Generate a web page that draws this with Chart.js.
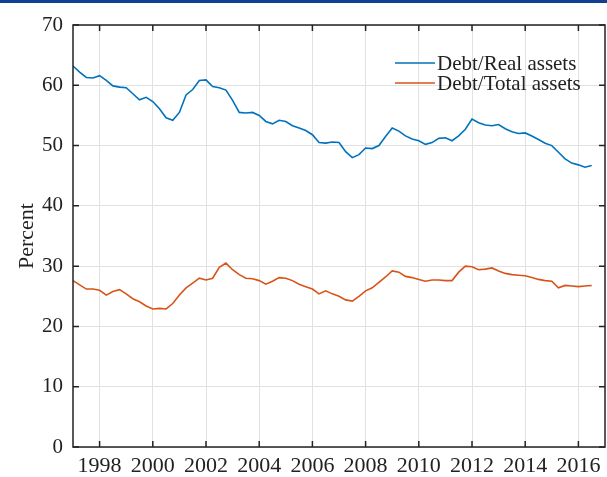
<!DOCTYPE html>
<html lang="en">
<head>
<meta charset="UTF-8">
<title>Debt ratios</title>
<style>
  body { margin: 0; background: #ffffff; }
  .chart-box { position: relative; width: 607px; height: 477px; }
  .topbar { position: absolute; left: 0; top: 0; width: 607px; height: 3px; background: #123f8f; }
</style>
</head>
<body>
<div class="chart-box"><canvas id="debtChart"></canvas></div>
<div class="topbar"></div>
<script src="https://cdn.jsdelivr.net/npm/chart.js"></script>
<script>
// quarterly observations, first one is 1997 Q1
const startYear = 1997;
const seriesLabels = ['Debt/Real assets', 'Debt/Total assets'];

const debtReal = [
  63.2, 62.2, 61.3, 61.2, 61.6, 60.8, 59.9, 59.7,   // 1997-98
  59.6, 58.6, 57.6, 58.0, 57.3, 56.1, 54.6, 54.2,   // 1999-00
  55.5, 58.4, 59.3, 60.8, 60.9, 59.8, 59.6, 59.2,   // 2001-02
  57.5, 55.5, 55.4, 55.5, 55.0, 54.0, 53.6, 54.2,   // 2003-04
  54.0, 53.3, 52.9, 52.5, 51.8, 50.5, 50.4, 50.6,   // 2005-06
  50.5, 49.0, 48.0, 48.5, 49.6, 49.5, 50.0, 51.5,   // 2007-08
  52.9, 52.4, 51.6, 51.1, 50.8, 50.2, 50.5, 51.2,   // 2009-10
  51.3, 50.8, 51.6, 52.7, 54.4, 53.8, 53.4, 53.3,   // 2011-12
  53.5, 52.8, 52.3, 52.0, 52.1, 51.6, 51.0, 50.4,   // 2013-14
  50.0, 48.9, 47.8, 47.1, 46.8, 46.4, 46.7          // 2015-16
];

const debtTotal = [
  27.6, 26.9, 26.2, 26.2, 26.0, 25.2, 25.8, 26.1,
  25.4, 24.6, 24.1, 23.4, 22.9, 23.0, 22.9, 23.8,
  25.2, 26.4, 27.2, 28.0, 27.7, 28.0, 29.8, 30.5,
  29.4, 28.6, 28.0, 27.9, 27.6, 27.0, 27.5, 28.1,
  28.0, 27.6, 27.0, 26.6, 26.2, 25.4, 25.9, 25.4,
  25.0, 24.4, 24.2, 25.0, 25.9, 26.4, 27.3, 28.2,
  29.2, 29.0, 28.3, 28.1, 27.8, 27.5, 27.7, 27.7,
  27.6, 27.6, 29.0, 30.0, 29.9, 29.4, 29.5, 29.7,
  29.2, 28.8, 28.6, 28.5, 28.4, 28.1, 27.8, 27.6,
  27.5, 26.4, 26.8, 26.7, 26.6, 26.7, 26.8
];

const xTickYears = [1998, 2000, 2002, 2004, 2006, 2008, 2010, 2012, 2014, 2016];
const yTickValues = [0, 10, 20, 30, 40, 50, 60, 70];

const blue = 'rgb(0,114,189)';
const orange = 'rgb(217,83,25)';
const serif = "'Liberation Serif', 'DejaVu Serif', serif";
const inkColor = '#222222';

function toPoints(values) {
  return values.map((v, i) => ({ x: startYear + i / 4, y: v }));
}

// box around the plot, inward tick marks, and the legend inside the plot
const framePlugin = {
  id: 'frame',
  afterDatasetsDraw(chart) {
    const { ctx, chartArea: a, scales: { x, y } } = chart;
    ctx.save();
    ctx.strokeStyle = inkColor;
    ctx.lineWidth = 1.5;
    ctx.strokeRect(a.left, a.top, a.right - a.left, a.bottom - a.top);
    ctx.beginPath();
    xTickYears.forEach(v => {
      const px = x.getPixelForValue(v);
      ctx.moveTo(px, a.bottom); ctx.lineTo(px, a.bottom - 6);
      ctx.moveTo(px, a.top); ctx.lineTo(px, a.top + 6);
    });
    yTickValues.forEach(v => {
      const py = y.getPixelForValue(v);
      ctx.moveTo(a.left, py); ctx.lineTo(a.left + 6, py);
      ctx.moveTo(a.right, py); ctx.lineTo(a.right - 6, py);
    });
    ctx.stroke();

    // legend
    ctx.font = '21px ' + serif;
    ctx.textBaseline = 'middle';
    ctx.fillStyle = inkColor;
    chart.data.datasets.forEach((ds, i) => {
      const ly = a.top + 38 + i * 20;
      const lx = a.right - 210;
      ctx.strokeStyle = ds.borderColor;
      ctx.lineWidth = 1.6;
      ctx.beginPath();
      ctx.moveTo(lx, ly); ctx.lineTo(lx + 40, ly);
      ctx.stroke();
      ctx.fillText(ds.label, lx + 42, ly + 1);
    });
    ctx.restore();
  }
};

const ctx = document.getElementById('debtChart').getContext('2d');
new Chart(ctx, {
  type: 'line',
  data: {
    datasets: [
      { label: seriesLabels[0], data: toPoints(debtReal), borderColor: blue, backgroundColor: blue,
        borderWidth: 1.6, pointRadius: 0, tension: 0, fill: false },
      { label: seriesLabels[1], data: toPoints(debtTotal), borderColor: orange, backgroundColor: orange,
        borderWidth: 1.6, pointRadius: 0, tension: 0, fill: false }
    ]
  },
  options: {
    responsive: true,
    maintainAspectRatio: false,
    animation: false,
    layout: { padding: { top: 25, right: 2, left: 0, bottom: 0 } },
    plugins: { legend: { display: false }, tooltip: { enabled: false } },
    scales: {
      x: {
        type: 'linear', min: 1997, max: 2017,
        afterBuildTicks: s => { s.ticks = xTickYears.map(v => ({ value: v })); },
        afterFit: s => { s.height = 30; },
        grid: { color: '#e2e2e2', drawTicks: false },
        border: { display: false },
        ticks: { font: { family: serif, size: 22 }, color: inkColor, padding: 6,
                 maxRotation: 0, autoSkip: false, callback: v => String(v) }
      },
      y: {
        min: 0, max: 70,
        afterBuildTicks: s => { s.ticks = yTickValues.map(v => ({ value: v })); },
        afterFit: s => { s.width = 73; },
        grid: { color: '#e2e2e2', drawTicks: false },
        border: { display: false },
        title: { display: true, text: 'Percent', color: inkColor,
                 font: { family: serif, size: 22 }, padding: { top: 14, bottom: 0 } },
        ticks: { font: { family: serif, size: 21 }, color: inkColor, padding: 10 }
      }
    }
  },
  plugins: [framePlugin]
});
</script>
</body>
</html>
